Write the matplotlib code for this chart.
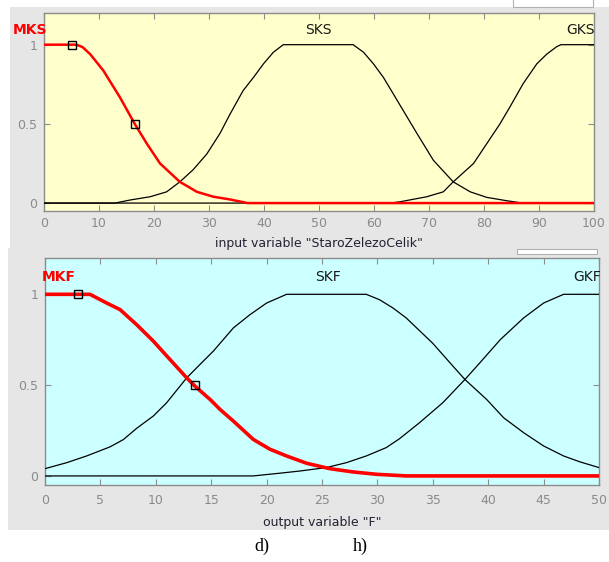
import matplotlib
matplotlib.use("Agg")
import matplotlib.pyplot as plt
from matplotlib.patches import Rectangle

# ---------------- data ----------------
# Top panel: input variable "StaroZelezoCelik" (0..100)
mks_x = [0, 5.9, 7.0, 8.4, 10.8, 13.8, 16.5, 18.7, 21.1, 24.7, 27.8, 30.8, 33.8, 37.0, 100]
mks_y = [1, 1, 0.985, 0.94, 0.836, 0.668, 0.5, 0.375, 0.25, 0.134, 0.071, 0.040, 0.023, 0.0, 0]

sks_x = [0, 12.9, 15.6, 19.3, 22.3, 24.7, 27.1, 29.6, 32.0, 33.8, 36.2, 38.1, 39.9, 41.7, 43.5,
         56.2, 58.1, 59.9, 61.7, 63.5, 65.3, 67.8, 70.8, 74.4, 77.5, 80.5, 84.1, 87.0, 100]
sks_y = [0, 0, 0.019, 0.04, 0.071, 0.134, 0.21, 0.31, 0.44, 0.56, 0.71, 0.794, 0.879, 0.952, 1,
         1, 0.952, 0.879, 0.794, 0.69, 0.585, 0.44, 0.27, 0.134, 0.071, 0.036, 0.015, 0, 0]

gks_x = [0, 63.0, 64.7, 69.6, 72.6, 74.4, 78.1, 80.5, 82.9, 84.7, 87.1, 89.6, 91.4, 93.2, 94.0, 100]
gks_y = [0, 0, 0.008, 0.04, 0.071, 0.134, 0.25, 0.375, 0.5, 0.606, 0.753, 0.879, 0.94, 0.987, 1, 1]

mks_mark_x = [5, 16.5]
mks_mark_y = [1, 0.5]

top_names = ["MKS", "SKS", "GKS"]
top_name_x = [-2.6, 49.8, 97.6]
top_xticks = [0, 10, 20, 30, 40, 50, 60, 70, 80, 90, 100]
top_xlabel = 'input variable "StaroZelezoCelik"'

# Bottom panel: output variable "F" (0..50)
mkf_x = [0, 4.06, 5.57, 6.77, 8.27, 9.78, 11.28, 12.79, 13.54, 14.9, 15.8, 17.0, 18.8, 20.3,
         21.8, 23.6, 25.7, 27.8, 29.9, 32.6, 50]
mkf_y = [1, 1, 0.952, 0.916, 0.833, 0.742, 0.641, 0.54, 0.494, 0.421, 0.366, 0.302, 0.201, 0.147,
         0.11, 0.07, 0.04, 0.022, 0.009, 0.0, 0]

skf_x = [0, 1.96, 3.76, 5.87, 7.07, 8.27, 9.78, 10.98, 12.79, 13.99, 15.19, 15.8, 17.0, 18.5, 20.0,
         21.8, 29.0, 30.2, 31.4, 32.6, 33.8, 35.0, 36.55, 37.9, 39.86, 41.4, 43.2, 45.0, 46.8, 48.3, 50]
skf_y = [0.04, 0.073, 0.11, 0.16, 0.20, 0.262, 0.33, 0.403, 0.54, 0.614, 0.687, 0.73, 0.815, 0.888, 0.952,
         1, 1, 0.97, 0.925, 0.87, 0.80, 0.73, 0.623, 0.531, 0.421, 0.32, 0.238, 0.165, 0.11, 0.077, 0.046]

gkf_x = [0, 18.8, 21.2, 23.0, 25.4, 27.2, 29.0, 30.8, 32.0, 33.8, 35.9, 37.9, 39.25, 41.1, 43.2, 45.0, 46.8, 50]
gkf_y = [0, 0, 0.015, 0.027, 0.046, 0.073, 0.11, 0.156, 0.205, 0.293, 0.403, 0.531, 0.623, 0.751, 0.87, 0.952, 1, 1]

mkf_mark_x = [3, 13.55]
mkf_mark_y = [1, 0.5]

bot_names = ["MKF", "SKF", "GKF"]
bot_name_x = [1.25, 25.5, 48.9]
bot_xticks = [0, 5, 10, 15, 20, 25, 30, 35, 40, 45, 50]
bot_xlabel = 'output variable "F"'

yticks = [0, 0.5, 1]
ytick_labels = ["0", "0.5", "1"]
captions = ["d)", "h)"]

# ---------------- figure ----------------
W, H = 609, 562
fig = plt.figure(figsize=(W / 100, H / 100), dpi=100)
fig.patch.set_facecolor("white")

def fr(x0, y0, x1, y1):
    """pixel box (top-left origin) -> figure fraction rect"""
    return (x0 / W, 1 - y1 / H, (x1 - x0) / W, (y1 - y0) / H)

panel_gray = "#e6e6e6"
for (x0, y0, x1, y1) in [(10, 7, 609, 248), (8, 248, 609, 530)]:
    l, b, w, h = fr(x0, y0, x1, y1)
    fig.add_artist(Rectangle((l, b), w, h, transform=fig.transFigure,
                             facecolor=panel_gray, edgecolor="none", zorder=0))
for (x0, y0, x1, y1) in [(513, -2, 593, 7), (517, 249, 597, 254)]:
    l, b, w, h = fr(x0, y0, x1, y1)
    fig.add_artist(Rectangle((l, b), w, h, transform=fig.transFigure,
                             facecolor="white", edgecolor="#b0b0b0", lw=0.8, zorder=1))

tick_color = "#8a8a8a"
spine_color = "#8c8c8c"

def style_axes(ax, bg, xmax, xticks, xlabel, pad):
    ax.set_facecolor(bg)
    ax.set_xlim(0, xmax)
    ax.set_ylim(-0.05, 1.2)
    ax.set_xticks(xticks)
    ax.set_xticklabels([str(t) for t in xticks])
    ax.set_yticks(yticks)
    ax.set_yticklabels(ytick_labels)
    ax.tick_params(axis="both", direction="in", length=4, width=0.8,
                   colors=spine_color, labelcolor=tick_color, labelsize=9,
                   top=True, right=True)
    ax.tick_params(axis="x", pad=pad)
    ax.tick_params(axis="y", pad=5)
    for s in ax.spines.values():
        s.set_color(spine_color)
        s.set_linewidth(1.0)
    ax.set_xlabel(xlabel, fontsize=9, color="#222233")
    ax.xaxis.label.set_va("center")

# top axes
ax1 = fig.add_axes(fr(44, 13, 594, 211))
style_axes(ax1, "#ffffcc", 100, top_xticks, top_xlabel, 4.5)
ax1.xaxis.set_label_coords(0.5, -0.162)
ax1.plot(sks_x, sks_y, color="black", lw=0.9, zorder=3)
ax1.plot(gks_x, gks_y, color="black", lw=0.9, zorder=3)
ax1.plot(mks_x, mks_y, color="#ff0000", lw=1.8, zorder=4)
ax1.plot(mks_mark_x, mks_mark_y, linestyle="none", marker="s", markersize=6,
         markerfacecolor="none", markeredgecolor="black", markeredgewidth=1.0, zorder=5)
for name, nx in zip(top_names, top_name_x):
    red = name == top_names[0]
    ax1.text(nx, 1.094, name, ha="center", va="center", fontsize=10,
             color="#ff0000" if red else "#1a1a1a",
             fontweight="bold" if red else "normal", clip_on=False, zorder=6)

# bottom axes
ax2 = fig.add_axes(fr(45, 258, 599, 485))
style_axes(ax2, "#ccffff", 50, bot_xticks, bot_xlabel, 6.5)
ax2.xaxis.set_label_coords(0.5, -0.163)
ax2.plot(skf_x, skf_y, color="black", lw=0.9, zorder=3)
ax2.plot(gkf_x, gkf_y, color="black", lw=0.9, zorder=3)
ax2.plot(mkf_x, mkf_y, color="#ff0000", lw=2.6, zorder=4)
ax2.plot(mkf_mark_x, mkf_mark_y, linestyle="none", marker="s", markersize=6,
         markerfacecolor="none", markeredgecolor="black", markeredgewidth=1.0, zorder=5)
for name, nx in zip(bot_names, bot_name_x):
    red = name == bot_names[0]
    ax2.text(nx, 1.094, name, ha="center", va="center", fontsize=10,
             color="#ff0000" if red else "#1a1a1a",
             fontweight="bold" if red else "normal", clip_on=False, zorder=6)

# captions
for txt, px in zip(captions, [262, 360]):
    fig.text(px / W, 1 - 546 / H, txt, ha="center", va="center",
             fontsize=13, family="Liberation Serif", color="black")

fig.savefig("out.png", dpi=100, facecolor="white")
